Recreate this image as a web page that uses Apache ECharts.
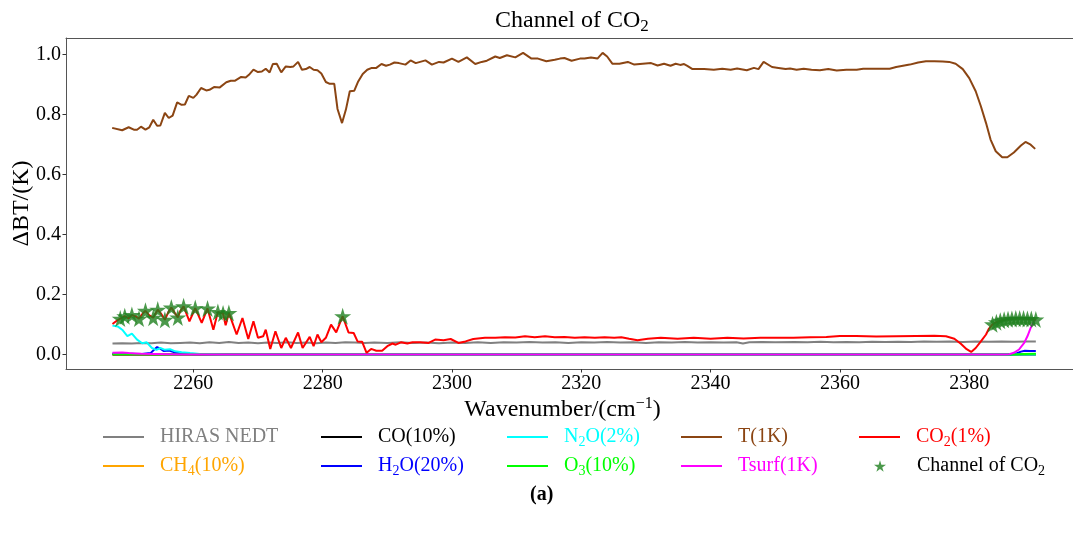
<!DOCTYPE html>
<html>
<head>
<meta charset="utf-8">
<script src="https://cdn.jsdelivr.net/npm/echarts@6/dist/echarts.min.js"></script>
<style>
  html, body { margin: 0; padding: 0; background: #fff; overflow: hidden; }
  #chart { width: 1100px; height: 538px; }
</style>
</head>
<body>
<div id="chart"></div>
<script>
// Brightness-temperature sensitivity (ΔBT, K) across the CO2 band, [wavenumber, value]

const hirasNedt = [
  [2247.5,0.037],[2249,0.038],[2250.5,0.037],[2252,0.039],[2253.5,0.038],[2255,0.040],[2256.5,0.038],
  [2258,0.039],[2259.5,0.040],[2261,0.038],[2262.5,0.041],[2264,0.039],[2265.5,0.042],[2267,0.039],
  [2268.5,0.040],[2270,0.038],[2271.5,0.040],[2273,0.039],[2274.5,0.041],[2276,0.039],[2277.5,0.040],
  [2279,0.038],[2280.5,0.040],[2282,0.039],[2283.5,0.041],[2285,0.040],[2286.5,0.039],[2288,0.040],
  [2290,0.039],[2292,0.041],[2294,0.039],[2296,0.040],[2298,0.038],[2300,0.040],[2302,0.039],
  [2304,0.041],[2306,0.039],[2308,0.041],[2310,0.040],[2312,0.042],[2314,0.040],[2316,0.041],
  [2318,0.039],[2320,0.041],[2322,0.040],[2324,0.042],[2326,0.040],[2328,0.041],[2330,0.039],
  [2332,0.041],[2334,0.040],[2336,0.042],[2338,0.040],[2340,0.041],[2342,0.040],[2344,0.041],
  [2345,0.037],[2346,0.041],[2348,0.042],[2350,0.041],[2353,0.042],[2355,0.041],[2357,0.043],
  [2359,0.041],[2361,0.042],[2363,0.041],[2365,0.043],[2367,0.042],[2369,0.043],[2371,0.042],
  [2373,0.044],[2375,0.043],[2377,0.044],[2379,0.042],[2381,0.044],[2383,0.043],[2385,0.044],
  [2387,0.043],[2389,0.044],[2390.3,0.044]
];

const ch4 = [[2247.5,0],[2270,0],[2300,0],[2330,0],[2360,0],[2390.3,0]];

const co = [[2247.5,0],[2270,0],[2300,0],[2330,0],[2360,0],[2390.3,0]];

const h2o = [
  [2247.5,0.004],[2250,0.003],[2252,0.002],[2253.4,0.005],[2254.0,0.018],[2254.4,0.025],
  [2254.9,0.020],[2255.4,0.012],[2255.9,0.013],[2256.4,0.013],[2257.2,0.007],[2258.2,0.004],
  [2260,0.001],[2262,0],[2300,0],[2350,0],[2386.5,0],[2387.3,0.004],[2388.0,0.010],
  [2388.6,0.013],[2389.4,0.012],[2390.3,0.012]
];

const n2o = [
  [2247.5,0.097],[2248.3,0.094],[2249.0,0.083],[2249.8,0.062],[2250.5,0.070],[2251.3,0.050],
  [2252.1,0.038],[2252.8,0.041],[2253.6,0.022],[2254.3,0.016],[2254.9,0.022],[2255.6,0.016],
  [2256.4,0.018],[2257.2,0.011],[2258.2,0.008],[2259.5,0.005],[2261,0.002],[2263,0.001],
  [2265,0],[2300,0],[2350,0],[2390.3,0]
];

const o3 = [
  [2247.5,0.001],[2250,0.001],[2253,0.001],[2256,0],[2300,0],[2350,0],[2387,0],
  [2388.5,0.002],[2390.3,0.003]
];

const tempProfile = [
  [2247.45,0.756],[2249.0,0.748],[2250.0,0.758],[2250.8,0.750],[2251.3,0.750],[2251.9,0.760],
  [2252.6,0.750],[2253.2,0.758],[2253.8,0.783],[2254.4,0.763],[2254.9,0.764],[2255.6,0.806],
  [2256.2,0.789],[2256.8,0.797],[2257.5,0.841],[2258.2,0.833],[2258.7,0.834],[2259.3,0.863],
  [2260.0,0.856],[2260.5,0.867],[2261.2,0.889],[2262.0,0.881],[2262.5,0.883],[2263.2,0.892],
  [2264.1,0.891],[2265.1,0.908],[2265.8,0.913],[2266.4,0.913],[2267.4,0.926],[2268.1,0.924],
  [2268.6,0.933],[2269.3,0.950],[2270.0,0.942],[2270.6,0.944],[2271.2,0.953],[2271.8,0.941],
  [2272.3,0.969],[2272.9,0.970],[2273.6,0.941],[2274.3,0.961],[2275.0,0.959],[2275.5,0.961],
  [2276.2,0.976],[2276.8,0.950],[2277.4,0.952],[2278.0,0.959],[2278.6,0.950],[2279.2,0.948],
  [2279.8,0.937],[2280.5,0.909],[2281.1,0.903],[2281.8,0.903],[2282.3,0.819],[2283.0,0.772],
  [2283.6,0.817],[2284.2,0.878],[2284.9,0.880],[2285.5,0.911],[2286.2,0.936],[2286.9,0.950],
  [2287.6,0.956],[2288.3,0.956],[2289.1,0.969],[2289.8,0.963],[2290.4,0.967],[2291.1,0.974],
  [2291.8,0.972],[2292.8,0.967],[2293.6,0.981],[2294.4,0.972],[2295.9,0.981],[2296.9,0.967],
  [2298.0,0.976],[2298.7,0.974],[2300.0,0.987],[2301.0,0.976],[2302.3,0.991],[2303.6,0.969],
  [2304.6,0.976],[2305.4,0.980],[2306.7,0.994],[2307.4,0.989],[2308.5,0.998],[2309.8,0.991],
  [2311.0,1.006],[2312.3,0.987],[2313.3,0.987],[2314.6,0.978],[2315.9,0.983],[2316.7,0.987],
  [2317.4,0.989],[2318.5,0.980],[2319.8,0.987],[2320.5,0.987],[2321.5,0.991],[2322.5,0.987],
  [2323.3,1.006],[2324.0,0.994],[2324.8,0.970],[2325.9,0.970],[2327.2,0.976],[2328.2,0.967],
  [2329.5,0.970],[2330.8,0.972],[2331.8,0.964],[2332.8,0.970],[2333.8,0.963],[2334.6,0.970],
  [2335.3,0.966],[2335.9,0.969],[2336.4,0.963],[2337.2,0.952],[2339.0,0.952],[2340.5,0.950],
  [2341.8,0.953],[2343.1,0.950],[2344.1,0.954],[2345.6,0.948],[2346.7,0.956],[2347.4,0.952],
  [2348.2,0.976],[2349.5,0.959],[2350.5,0.956],[2351.6,0.952],[2352.3,0.954],[2353.3,0.950],
  [2354.4,0.953],[2355.6,0.950],[2356.9,0.948],[2358.2,0.952],[2359.5,0.947],[2361.0,0.950],
  [2362.6,0.950],[2363.6,0.953],[2365.6,0.953],[2367.7,0.953],[2368.7,0.959],[2370.8,0.967],
  [2372.1,0.974],[2373.3,0.978],[2374.6,0.978],[2375.9,0.977],[2376.9,0.976],[2377.9,0.970],
  [2379.0,0.952],[2380.0,0.922],[2381.0,0.878],[2381.8,0.828],[2382.6,0.772],[2383.3,0.717],
  [2384.1,0.678],[2385.1,0.658],[2385.9,0.658],[2386.9,0.674],[2388.0,0.697],[2388.7,0.709],
  [2389.5,0.700],[2390.2,0.686]
];

const tsurf = [
  [2247.5,0.006],[2249,0.007],[2250,0.005],[2251,0.004],[2252,0.003],[2254,0.002],[2256,0.001],
  [2258,0],[2300,0],[2350,0],[2385.5,0],[2386.2,0.001],[2386.9,0.006],[2387.7,0.017],
  [2388.5,0.039],[2389.0,0.061],[2389.5,0.089],[2390.0,0.111],[2390.3,0.117]
];

const co2 = [
  [2247.5,0.102],[2248.1,0.112],[2248.7,0.120],[2249.4,0.128],[2250.0,0.121],[2250.5,0.132],
  [2251.1,0.127],[2251.6,0.120],[2252.2,0.138],[2252.6,0.146],[2253.2,0.131],[2253.8,0.123],
  [2254.5,0.150],[2255.0,0.137],[2255.6,0.116],[2256.1,0.140],[2256.6,0.157],[2257.1,0.140],
  [2257.6,0.124],[2258.0,0.146],[2258.5,0.161],[2259.4,0.111],[2260.3,0.155],[2261.3,0.106],
  [2262.2,0.154],[2263.1,0.083],[2263.8,0.142],[2264.2,0.139],[2264.6,0.137],[2265.0,0.098],
  [2265.5,0.139],[2266.7,0.067],[2267.6,0.122],[2268.5,0.052],[2269.3,0.111],[2270.0,0.056],
  [2270.8,0.061],[2271.2,0.083],[2271.9,0.019],[2272.7,0.078],[2273.6,0.022],[2274.3,0.056],
  [2275.1,0.022],[2276.2,0.074],[2276.9,0.022],[2278.0,0.059],[2278.6,0.028],[2279.2,0.067],
  [2279.8,0.041],[2280.5,0.056],[2281.3,0.100],[2282.1,0.074],[2283.1,0.128],[2284.0,0.074],
  [2284.8,0.072],[2285.4,0.044],[2286.1,0.043],[2286.8,0.006],[2287.5,0.019],[2288.3,0.013],
  [2289.2,0.013],[2290.0,0.028],[2290.8,0.037],[2291.3,0.033],[2292.1,0.041],[2293.1,0.037],
  [2293.9,0.041],[2295.1,0.041],[2296.4,0.039],[2297.4,0.050],[2298.7,0.048],[2299.8,0.052],
  [2301.0,0.039],[2302.1,0.044],[2303.3,0.052],[2305.1,0.056],[2306.7,0.056],[2308.2,0.058],
  [2309.8,0.057],[2311.3,0.061],[2312.8,0.058],[2314.4,0.061],[2315.9,0.058],[2317.4,0.059],
  [2319.0,0.056],[2320.5,0.058],[2322.1,0.056],[2323.6,0.058],[2325.1,0.056],[2326.2,0.058],
  [2327.4,0.053],[2328.7,0.048],[2330.3,0.053],[2332.3,0.056],[2334.9,0.053],[2337.4,0.056],
  [2340.0,0.053],[2342.6,0.056],[2345.1,0.054],[2347.7,0.056],[2350.3,0.056],[2352.8,0.056],
  [2355.4,0.058],[2357.9,0.059],[2360.0,0.062],[2362.5,0.062],[2365.6,0.060],[2368.7,0.061],
  [2371.8,0.062],[2374.6,0.063],[2376.4,0.061],[2377.7,0.053],[2378.7,0.036],[2379.6,0.018],
  [2380.3,0.009],[2381.0,0.022],[2381.8,0.044],[2382.6,0.067],[2383.0,0.085],[2383.6,0.101],
  [2384.2,0.108],[2384.8,0.113],[2385.4,0.116],[2386.0,0.118],[2386.6,0.119],[2387.2,0.120],
  [2387.8,0.120],[2388.4,0.120],[2389.0,0.119],[2389.6,0.119],[2390.3,0.117]
];

// selected CO2 channels, marked on the CO2 curve
const co2Channels = [
  [2248.7,0.120],[2249.4,0.128],[2250.5,0.132],[2251.6,0.120],[2252.6,0.146],[2253.8,0.123],
  [2254.5,0.150],[2255.6,0.116],[2256.6,0.157],[2257.6,0.124],[2258.5,0.161],[2260.3,0.155],
  [2262.2,0.154],[2263.8,0.142],[2264.6,0.137],[2265.5,0.139],[2283.1,0.128],
  [2383.6,0.101],[2384.2,0.108],[2384.8,0.113],[2385.4,0.116],[2386.0,0.118],[2386.6,0.119],
  [2387.2,0.120],[2387.8,0.120],[2388.4,0.120],[2389.0,0.119],[2389.6,0.119],[2390.3,0.117]
];

const xTicks = [2260, 2280, 2300, 2320, 2340, 2360, 2380];
const yTicks = [0.0, 0.2, 0.4, 0.6, 0.8, 1.0];

const FONT = '"Liberation Serif", "Times New Roman", "DejaVu Serif", serif';
const STAR = 'path://M50,0 L61,35 L98,35 L68,57 L79,91 L50,70 L21,91 L32,57 L2,35 L39,35 Z';
const STAR_GREEN = '#1E801E';
const SPINE = '#555555';
const X_MIN = 2240.31;
const X_MAX = 2397.44;

const seriesDefs = [
  { name: 'HIRAS NEDT', data: hirasNedt, color: '#808080' },
  { name: 'CH4(10%)', data: ch4, color: '#FFA500' },
  { name: 'CO(10%)', data: co, color: '#000000' },
  { name: 'H2O(20%)', data: h2o, color: '#0000FF' },
  { name: 'N2O(2%)', data: n2o, color: '#00FFFF' },
  { name: 'O3(10%)', data: o3, color: '#00FF00' },
  { name: 'T(1K)', data: tempProfile, color: '#8B4513' },
  { name: 'Tsurf(1K)', data: tsurf, color: '#FF00FF' },
  { name: 'CO2(1%)', data: co2, color: '#FF0000' }
];

// legend slots: [name, icon left, row centre y, text colour]
const legendSlots = [
  ['HIRAS NEDT', 103, 437, '#808080'],
  ['CO(10%)', 321, 437, '#000000'],
  ['N2O(2%)', 507, 437, '#00FFFF'],
  ['T(1K)', 681, 437, '#8B4513'],
  ['CO2(1%)', 859, 437, '#FF0000'],
  ['CH4(10%)', 103, 466, '#FFA500'],
  ['H2O(20%)', 321, 466, '#0000FF'],
  ['O3(10%)', 507, 466, '#00FF00'],
  ['Tsurf(1K)', 681, 466, '#FF00FF'],
  ['Channel of CO2', 874, 466, '#000000']
];

// turn chemical formulas into rich text with subscript digits
function richFormula(name, lead) {
  let out = '';
  let buf = '';
  let first = true;
  const flush = () => {
    if (buf) { out += '{' + (first ? lead : 't') + '|' + buf + '}'; first = false; buf = ''; }
  };
  for (let i = 0; i < name.length; i++) {
    const c = name[i];
    if (/\d/.test(c) && i > 0 && /[A-Za-z]/.test(name[i - 1])) {
      flush();
      out += '{s|' + c + '}';
    } else {
      buf += c;
    }
  }
  flush();
  return out;
}

function richStyles(color, padLeft, size) {
  const fs = size || 20;
  const lh = fs + 4;
  const sub = Math.round(fs * 0.7);
  return {
    t: { fontFamily: FONT, fontSize: fs, fontWeight: 'normal', lineHeight: lh, color: color },
    p: { fontFamily: FONT, fontSize: fs, fontWeight: 'normal', lineHeight: lh, color: color, padding: [0, 0, 0, padLeft] },
    s: { fontFamily: FONT, fontSize: sub, fontWeight: 'normal', lineHeight: lh / 2, verticalAlign: 'bottom', color: color }
  };
}

const legends = legendSlots.map(([name, left, cy, color]) => {
  const isStar = name === 'Channel of CO2';
  return {
    data: [name],
    left: left,
    top: cy - 10,
    padding: 0,
    itemWidth: isStar ? 12 : 41,
    itemHeight: isStar ? 12 : 2,
    icon: isStar ? STAR : 'rect',
    selectedMode: false,
    formatter: (n) => richFormula(n, 'p'),
    textStyle: { fontFamily: FONT, fontSize: 20, color: color, rich: richStyles(color, isStar ? 26 : 11) }
  };
});

const chart = echarts.init(document.getElementById('chart'), null, { renderer: 'canvas' });

chart.setOption({
  animation: false,
  backgroundColor: '#ffffff',
  title: [
    {
      text: '{t|Channel of CO}{s|2}',
      left: 495,
      top: 7,
      padding: 0,
      textStyle: { fontWeight: 'normal', rich: richStyles('#000000', 0, 24) }
    },
    {
      text: '(a)',
      left: 530,
      top: 485,
      padding: 0,
      textStyle: { fontFamily: FONT, fontSize: 20, fontWeight: 'bold', color: '#000000' }
    }
  ],
  legend: legends,
  grid: {
    left: 66, top: 38, width: 1016, height: 331,
    outerBoundsMode: 'none',
    containLabel: false,
    show: false
  },
  // plain page background along the cut right edge of the frame
  graphic: [{
    type: 'rect',
    left: 1058,
    top: 40,
    shape: { width: 42, height: 328 },
    style: { fill: '#ffffff' },
    z: 100,
    silent: true
  }],
  xAxis: [
    {
      type: 'value',
      position: 'bottom',
      min: X_MIN,
      max: X_MAX,
      name: '{t|Wavenumber/(cm}{u|−1}{t|)}',
      nameLocation: 'middle',
      nameGap: 27,
      nameMoveOverlap: false,
      nameTextStyle: {
        padding: [0, 23, 0, 0],
        rich: {
          t: { fontFamily: FONT, fontSize: 24, lineHeight: 28, color: '#000' },
          u: { fontFamily: FONT, fontSize: 16, lineHeight: 14, verticalAlign: 'top', color: '#000' }
        }
      },
      axisLine: { onZero: false, lineStyle: { color: SPINE, width: 1 } },
      axisTick: { show: true, length: 3.5, customValues: xTicks, lineStyle: { color: '#333' } },
      axisLabel: {
        customValues: xTicks,
        margin: 5,
        fontFamily: FONT, fontSize: 20, color: '#000',
        formatter: (v) => String(v)
      },
      splitLine: { show: false }
    },
    {
      // top spine of the frame
      type: 'value',
      position: 'top',
      min: X_MIN,
      max: X_MAX,
      axisLine: { show: true, onZero: false, lineStyle: { color: SPINE, width: 1 } },
      axisTick: { show: false },
      axisLabel: { show: false },
      splitLine: { show: false }
    }
  ],
  yAxis: {
    type: 'value',
    min: -0.048,
    max: 1.0557,
    name: 'ΔBT/(K)',
    nameLocation: 'middle',
    nameGap: 32,
    nameMoveOverlap: false,
    nameTextStyle: { fontFamily: FONT, fontSize: 24, color: '#000' },
    axisLine: { onZero: false, lineStyle: { color: SPINE, width: 1 } },
    axisTick: { show: true, length: 3.5, customValues: yTicks, lineStyle: { color: '#333' } },
    axisLabel: {
      customValues: yTicks,
      margin: 5,
      fontFamily: FONT, fontSize: 20, color: '#000',
      formatter: (v) => v.toFixed(1)
    },
    splitLine: { show: false }
  },
  series: seriesDefs.map((d, i) => ({
    name: d.name,
    type: 'line',
    xAxisIndex: 0,
    data: d.data,
    showSymbol: false,
    symbol: 'none',
    color: d.color,
    lineStyle: { color: d.color, width: 2 },
    z: 2 + i,
    silent: true
  })).concat([{
    name: 'Channel of CO2',
    type: 'scatter',
    xAxisIndex: 0,
    data: co2Channels,
    symbol: STAR,
    symbolSize: 17,
    color: STAR_GREEN,
    itemStyle: { color: STAR_GREEN },
    z: 20,
    silent: true
  }])
});
</script>
</body>
</html>
